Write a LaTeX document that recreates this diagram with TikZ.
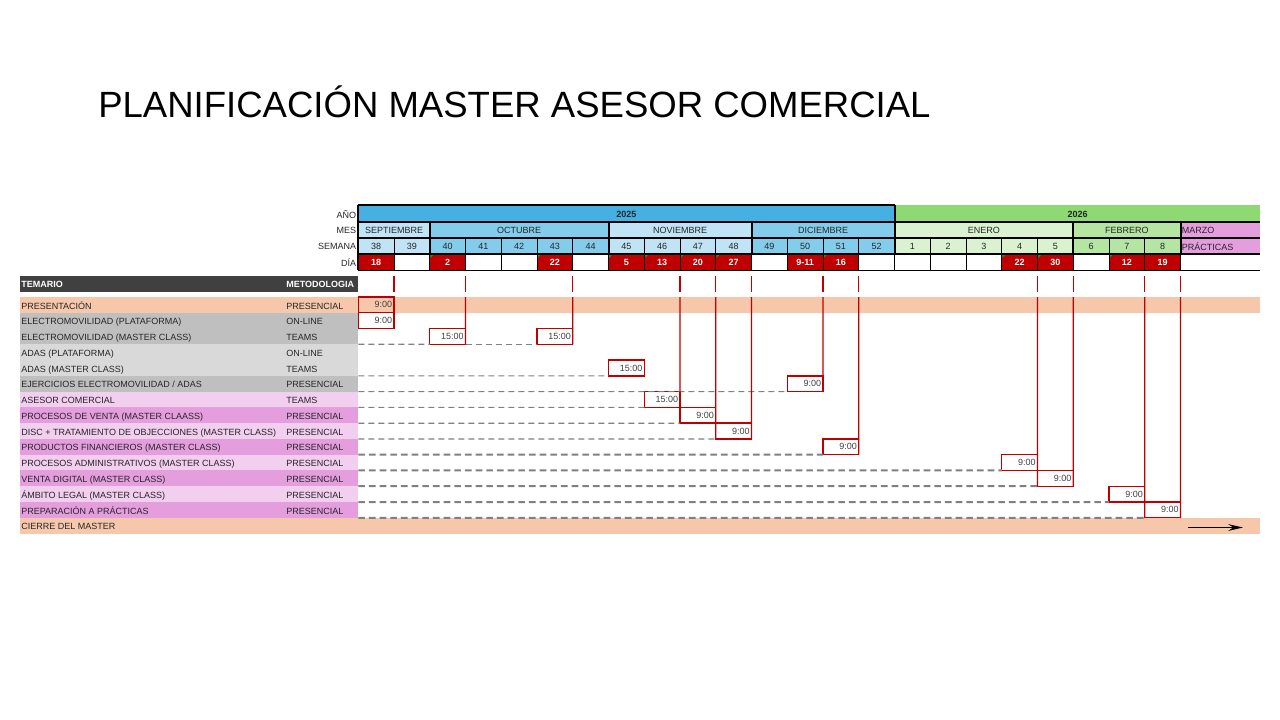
\documentclass[tikz,border=0pt]{standalone}
\usepackage{fontspec}
\setmainfont{Liberation Sans}
\usetikzlibrary{arrows.meta, positioning}
\definecolor{yrblue}{HTML}{45B0E1}
\definecolor{mblue}{HTML}{83CCEB}
\definecolor{lblue}{HTML}{C0E4F5}
\definecolor{yrgreen}{HTML}{8ED973}
\definecolor{mgreen}{HTML}{B4E5A2}
\definecolor{lgreen}{HTML}{DAF2D0}
\definecolor{mpink}{HTML}{E49EDD}
\definecolor{lpink}{HTML}{F2CEEF}
\definecolor{salmon}{HTML}{F7C7AC}
\definecolor{midgray}{HTML}{BFBFBF}
\definecolor{lgray}{HTML}{D9D9D9}
\definecolor{hdrgray}{HTML}{404040}
\definecolor{dayred}{HTML}{C00000}
\definecolor{dashgray}{HTML}{808080}
\definecolor{notegreen}{HTML}{2E8B2E}
\newcommand{\cellfont}{\fontsize{6.75}{8}\selectfont}
\newcommand{\bx}[1]{(358.3+35.75*(#1))}

\begin{document}
\begin{tikzpicture}[x=0.75pt, y=-0.75pt,
    hdrlabel/.style={anchor=east, font=\cellfont, text=black!85, inner sep=0.5pt},
    weekcell/.style={font=\cellfont, text=black!85, inner sep=0},
    daycell/.style={font=\cellfont\bfseries, text=white, inner sep=0},
    rowtext/.style={anchor=west, font=\cellfont, text=black!85, inner sep=0},
    tabletext/.style={anchor=base west, font=\cellfont, text=black!85, inner sep=0},
    timebox/.style={draw=dayred, line width=1pt, outer sep=0pt, minimum width=26.81pt, minimum height=11.83pt, inner sep=0, text width=24pt, align=right, font=\cellfont, text=black!75},
    redline/.style={draw=dayred, line width=1pt},
    thinbar/.style={draw=dashgray, line width=0.9pt, dash pattern=on 4.5pt off 3pt},
    thickbar/.style={draw=dashgray, line width=1.5pt, dash pattern=on 5pt off 3pt},
    thickrule/.style={line width=1.5pt},
    thinrule/.style={line width=0.6pt}
]
\useasboundingbox (0,0) rectangle (1280,720);

% Title
\node[anchor=base west, inner sep=0, font=\fontsize{27.4}{32}\selectfont] (title) at (98,118) {PLANIFICACIÓN MASTER ASESOR COMERCIAL};

% Year row
\fill[yrblue] ({\bx{0}},205.5) rectangle ({\bx{15}},222);
\fill[yrgreen] ({\bx{15}},205.5) rectangle (1260,222);
\node[weekcell, font=\cellfont\bfseries] (y2025) at ({\bx{7.5}},214.5) {2025};
\node[weekcell, font=\cellfont\bfseries] (y2026) at (1077.5,214.5) {2026};

% Month row
\fill[lblue] ({\bx{0}},222) rectangle ({\bx{2}},238);
\fill[mblue] ({\bx{2}},222) rectangle ({\bx{7}},238);
\fill[lblue] ({\bx{7}},222) rectangle ({\bx{11}},238);
\fill[mblue] ({\bx{11}},222) rectangle ({\bx{15}},238);
\fill[lgreen] ({\bx{15}},222) rectangle ({\bx{20}},238);
\fill[mgreen] ({\bx{20}},222) rectangle ({\bx{23}},238);
\fill[mpink] ({\bx{23}},222) rectangle (1260,254);
\node[weekcell] (sep) at ({\bx{1}},230.5) {SEPTIEMBRE};
\node[weekcell] (oct) at ({\bx{4.5}},230.5) {OCTUBRE};
\node[weekcell] (nov) at ({\bx{9}},230.5) {NOVIEMBRE};
\node[weekcell] (dic) at ({\bx{13}},230.5) {DICIEMBRE};
\node[weekcell] (ene) at ({\bx{17.5}},230.5) {ENERO};
\node[weekcell] (feb) at ({\bx{21.5}},230.5) {FEBRERO};
\node[rowtext] (mar) at ({\bx{23}+1},230.5) {MARZO};
\node[rowtext] (prac) at ({\bx{23}+1},246.5) {PRÁCTICAS};

% Week row
\foreach \c/\w/\f in {0/38/lblue, 1/39/lblue, 2/40/mblue, 3/41/mblue, 4/42/mblue, 5/43/mblue, 6/44/mblue,
    7/45/lblue, 8/46/lblue, 9/47/lblue, 10/48/lblue, 11/49/mblue, 12/50/mblue, 13/51/mblue, 14/52/mblue,
    15/1/lgreen, 16/2/lgreen, 17/3/lgreen, 18/4/lgreen, 19/5/lgreen, 20/6/mgreen, 21/7/mgreen, 22/8/mgreen} {
  \fill[\f] ({\bx{\c}},238) rectangle ({\bx{\c+1}},254);
  \node[weekcell] (w\c) at ({\bx{\c+0.5}},246.5) {\w};
}

% Day row
\foreach \c/\d in {0/18, 2/2, 5/22, 7/5, 8/13, 9/20, 10/27, 12/9-11, 13/16, 18/22, 19/30, 21/12, 22/19} {
  \fill[dayred] ({\bx{\c}},254) rectangle ({\bx{\c+1}},270);
  \node[daycell] (d\c) at ({\bx{\c+0.5}},262.5) {\d};
}
\foreach \c in {2,5,7,8,9,10,13,18,19,21}
  \fill[notegreen] ({\bx{\c}+0.6},254.8) -- ++(3.2,0) -- ++(-3.2,3.2) -- cycle;

% Grid lines
\foreach \c in {1,...,22}
  \draw[thinrule] ({\bx{\c}},238) -- ({\bx{\c}},270);
\draw[thinrule] ({\bx{23}},254) -- ({\bx{23}},270);
\foreach \c in {2,7,11,20,23}
  \draw[thickrule] ({\bx{\c}},222) -- ({\bx{\c}},254);
\draw[thickrule] ({\bx{0}},205.5) -- ({\bx{15}},205.5);
\draw[thickrule] ({\bx{0}},204.8) -- ({\bx{0}},270);
\draw[thickrule] ({\bx{15}},204.8) -- ({\bx{15}},254);
\foreach \yy in {222,238,254}
  \draw[thickrule] ({\bx{0}},\yy) -- (1260,\yy);
\draw[line width=0.9pt] ({\bx{0}},270.5) -- (1260,270.5);

% Header labels
\node[hdrlabel] (lano) at (357,214.5) {AÑO};
\node[hdrlabel] (lmes) at (357,230.5) {MES};
\node[hdrlabel] (lsem) at (357,246.5) {SEMANA};
\node[hdrlabel] (ldia) at (357,262.5) {DÍA};

% Topics table
\fill[hdrgray] (20,276) rectangle ({\bx{0}},292);
\node[rowtext, text=white, font=\cellfont\bfseries] (temario) at (21,284) {TEMARIO};
\node[rowtext, text=white, font=\cellfont\bfseries] (metodo) at (286,284) {METODOLOGIA};
\foreach \i/\tema/\met/\f in {1/PRESENTACIÓN/PRESENCIAL/salmon,
    2/ELECTROMOVILIDAD (PLATAFORMA)/ON-LINE/midgray,
    3/ELECTROMOVILIDAD (MASTER CLASS)/TEAMS/midgray,
    4/ADAS (PLATAFORMA)/ON-LINE/lgray,
    5/ADAS (MASTER CLASS)/TEAMS/lgray,
    6/{EJERCICIOS ELECTROMOVILIDAD / ADAS}/PRESENCIAL/midgray,
    7/ASESOR COMERCIAL/TEAMS/lpink,
    8/PROCESOS DE VENTA (MASTER CLAASS)/PRESENCIAL/mpink,
    9/DISC + TRATAMIENTO DE OBJECCIONES (MASTER CLASS)/PRESENCIAL/lpink,
    10/PRODUCTOS FINANCIEROS (MASTER CLASS)/PRESENCIAL/mpink,
    11/PROCESOS ADMINISTRATIVOS (MASTER CLASS)/PRESENCIAL/lpink,
    12/VENTA DIGITAL (MASTER CLASS)/PRESENCIAL/mpink,
    13/ÁMBITO LEGAL (MASTER CLASS)/PRESENCIAL/lpink,
    14/PREPARACIÓN A PRÁCTICAS/PRESENCIAL/mpink,
    15/CIERRE DEL MASTER//salmon} {
  \fill[\f] (20,{297+(\i-1)*15.77}) rectangle ({\bx{0}},{297+\i*15.77});
  \node[tabletext] (tema\i) at (21,{297+(\i-1)*15.77+12}) {\tema};
  \node[tabletext] (met\i) at (286,{297+(\i-1)*15.77+12}) {\met};
}
\fill[salmon] ({\bx{0}},297) rectangle (1260,312.77);
\fill[salmon] ({\bx{0}},{297+14*15.77}) rectangle (1260,{297+15*15.77});

% Sessions
\node[timebox] (e1) at ({\bx{0.5}},{297+0.5*15.77}) {9:00};
\node[timebox] (e2) at ({\bx{0.5}},{297+1.5*15.77}) {9:00};
\node[timebox] (e3a) at ({\bx{2.5}},{297+2.5*15.77}) {15:00};
\node[timebox] (e3b) at ({\bx{5.5}},{297+2.5*15.77}) {15:00};
\node[timebox] (e5) at ({\bx{7.5}},{297+4.5*15.77}) {15:00};
\node[timebox] (e6) at ({\bx{12.5}},{297+5.5*15.77}) {9:00};
\node[timebox] (e7) at ({\bx{8.5}},{297+6.5*15.77}) {15:00};
\node[timebox] (e8) at ({\bx{9.5}},{297+7.5*15.77}) {9:00};
\node[timebox] (e9) at ({\bx{10.5}},{297+8.5*15.77}) {9:00};
\node[timebox] (e10) at ({\bx{13.5}},{297+9.5*15.77}) {9:00};
\node[timebox] (e11) at ({\bx{18.5}},{297+10.5*15.77}) {9:00};
\node[timebox] (e12) at ({\bx{19.5}},{297+11.5*15.77}) {9:00};
\node[timebox] (e13) at ({\bx{21.5}},{297+12.5*15.77}) {9:00};
\node[timebox] (e14) at ({\bx{22.5}},{297+13.5*15.77}) {9:00};

% Lead-in dashes
\foreach \i/\e in {3/e3a, 5/e5, 6/e6, 7/e7, 8/e8, 9/e9} {
  \coordinate (s\i) at ({\bx{0}},{297+\i*15.77});
  \draw[thinbar] (s\i) -- (\e.south west);
}
\draw[thinbar] (e3a.south east) -- (e3b.south west);
\foreach \i/\e in {10/e10, 11/e11, 12/e12, 13/e13, 14/e14} {
  \coordinate (s\i) at ({\bx{0}},{297+\i*15.77});
  \draw[thickbar] (s\i) -- (\e.south west);
}

% Day markers
\foreach \c in {1,3,6,9,10,11,13,14,19,20,22,23}
  \draw[redline] ({\bx{\c}},276) -- ({\bx{\c}},292);
\foreach \c/\e in {3/e3a.south east, 6/e3b.south east, 9/e8.south west, 10/e9.south west,
    11/e9.south east, 13/e6.south east, 14/e10.south east, 19/e12.south west,
    20/e12.south east, 22/e14.south west, 23/e14.south east} {
  \coordinate (top\c) at ({\bx{\c}},297);
  \draw[redline] (top\c) -- (\e);
}

% Closing arrow
\coordinate (arrs) at (1188,527.5);
\coordinate (arre) at (1243,527.5);
\draw[line width=1.1pt, -{Stealth[length=11pt, width=5pt]}] (arrs) -- (arre);

\end{tikzpicture}
\end{document}
